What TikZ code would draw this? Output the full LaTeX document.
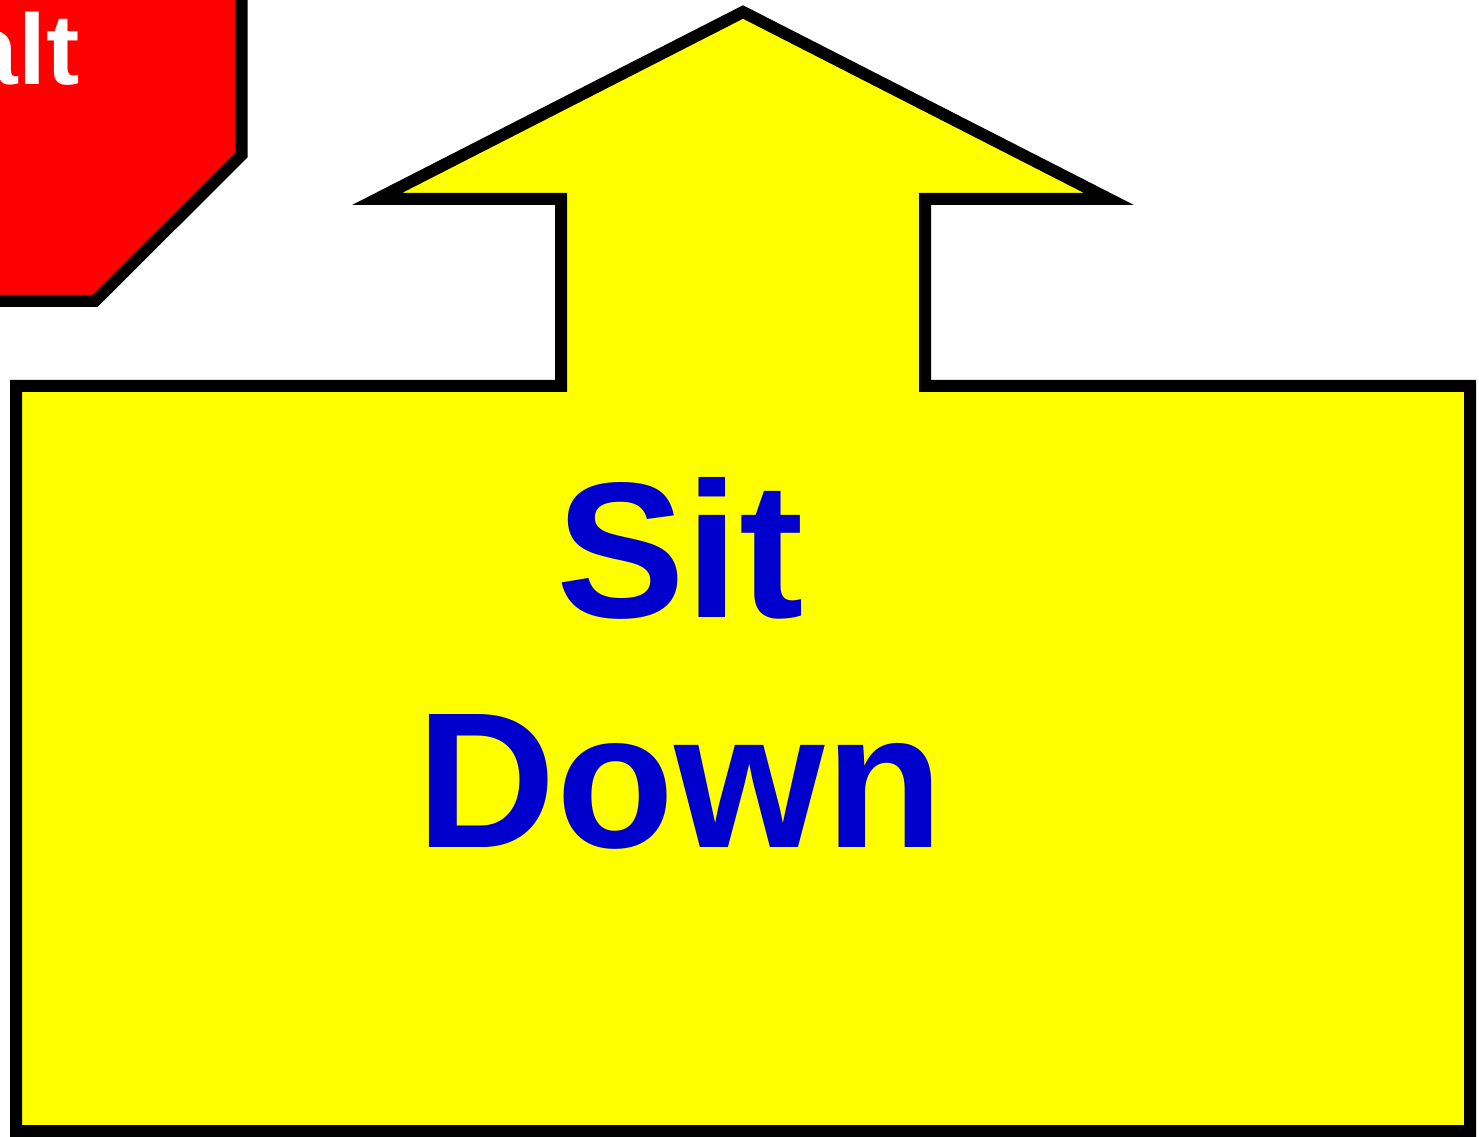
\documentclass[tikz,border=0pt]{standalone}
\usepackage{fontspec}
\setmainfont{Liberation Sans}
\definecolor{signred}{RGB}{255,0,0}
\definecolor{signyellow}{RGB}{255,255,0}
\definecolor{textblue}{RGB}{0,0,204}
\begin{document}
\begin{tikzpicture}[x=0.75pt,y=-0.75pt,
  outline/.style={draw=black,line width=9pt,line join=miter,miter limit=10},
  bigtext/.style={text=textblue,font=\fontsize{145pt}{172pt}\selectfont\bfseries,inner sep=0pt},
  halttext/.style={text=white,font=\fontsize{75pt}{90pt}\selectfont\bfseries,inner sep=0pt}]
\useasboundingbox (0,0) rectangle (1479,1137);
\clip (0,0) rectangle (1479,1137);
% stop sign (octagon), mostly off-page
\draw[outline,fill=signred] (-257,-51) -- (-111,-197) -- (96,-197) -- (241.5,-51)
  -- (241.5,155) -- (95,301) -- (-111,301) -- (-257,155) -- cycle;
\node[halttext] (halt) at (-15,49) {Halt};
% arrow-topped box
\draw[outline,fill=signyellow] (743,12) -- (1109,199) -- (925,199) -- (925,386)
  -- (1470,386) -- (1470,1131) -- (16,1131) -- (16,386) -- (561,386) -- (561,199)
  -- (377,199) -- cycle;
\node[bigtext,anchor=base] (sit) at (680,617) {Sit};
\node[bigtext,anchor=base] (down) at (680,847) {Down};
\end{tikzpicture}
\end{document}
